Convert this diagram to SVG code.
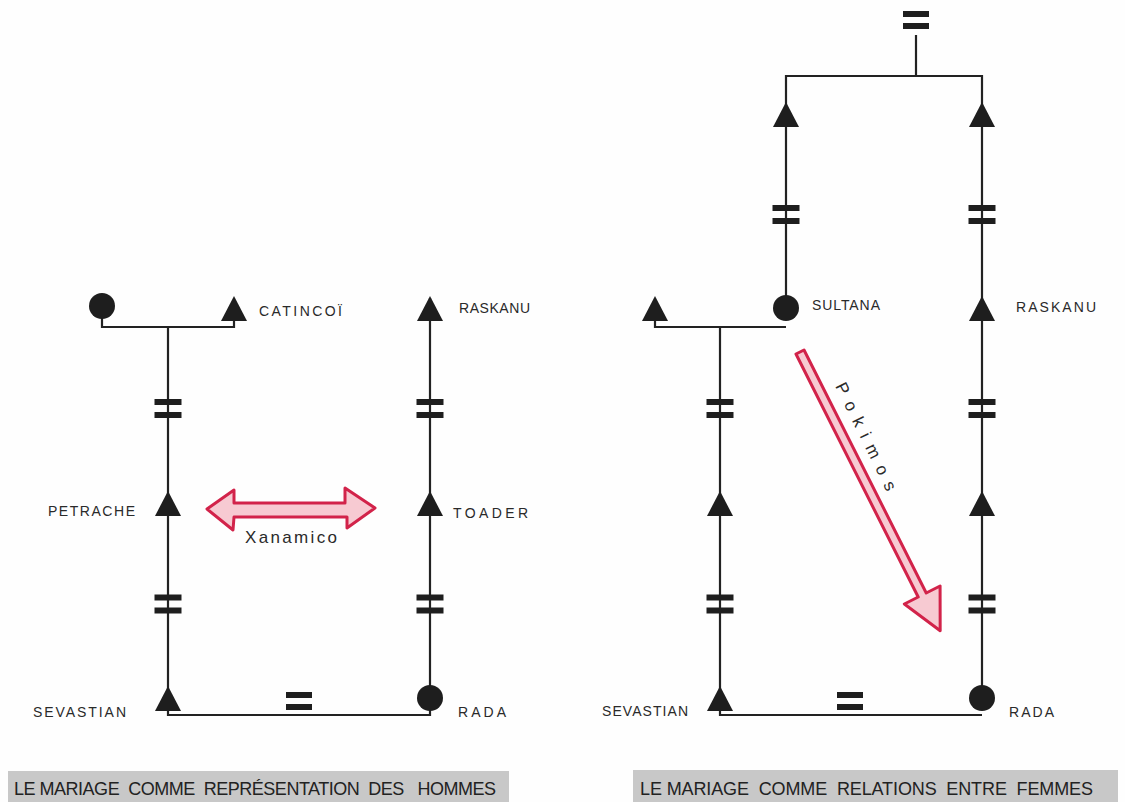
<svg xmlns="http://www.w3.org/2000/svg" width="1125" height="802" viewBox="0 0 1125 802">
<style>
.ln{fill:none;stroke:#222;stroke-width:2.2;stroke-linejoin:miter}
.sym{fill:#1e1e1e}
.lbl{font-family:"Liberation Sans",Arial,sans-serif;font-size:14px;fill:#2a2a2a}
.cap{font-family:"Liberation Sans",Arial,sans-serif;font-size:18px;fill:#222;white-space:pre}
.hand{font-family:"Liberation Sans",Arial,sans-serif;font-size:17px;fill:#2a2a2a}
.red{fill:#f7cad2;stroke:#d2234a;stroke-width:3;stroke-linejoin:round}
</style>
<defs>
<path id="tri" d="M0,0 L13,25 L-13,25 Z"/>
<g id="bars"><rect x="-13.5" y="-9.5" width="27" height="6"/><rect x="-13.5" y="3.5" width="27" height="6"/></g>
<g id="eq"><rect x="-13" y="-9" width="26" height="6"/><rect x="-13" y="3" width="26" height="6"/></g>
</defs>
<rect width="1125" height="802" fill="#fefefe"/>

<g id="connectors">
<path class="ln" d="M102,307 V327 H234 V321"/>
<path class="ln" d="M168,327 V715 H430 V298"/>
<path class="ln" d="M916,35 V76"/>
<path class="ln" d="M786,307 V76 H982 V698"/>
<path class="ln" d="M655,321 V327 H786"/>
<path class="ln" d="M720,327 V715 H982"/>
</g>

<g id="marks" class="sym">
<use href="#bars" x="168" y="408.5"/>
<use href="#bars" x="430" y="408.5"/>
<use href="#bars" x="168" y="604"/>
<use href="#bars" x="430" y="604"/>
<use href="#eq" x="299" y="701"/>
<use href="#bars" x="786" y="214.5"/>
<use href="#bars" x="982" y="214.5"/>
<use href="#bars" x="720" y="408.5"/>
<use href="#bars" x="982" y="408.5"/>
<use href="#bars" x="720" y="604"/>
<use href="#bars" x="982" y="604"/>
<use href="#eq" x="850" y="701"/>
<use href="#eq" x="916" y="20"/>
</g>

<!-- Left diagram -->
<g id="l-mother"><circle class="sym" cx="102" cy="306" r="13"/></g>
<g id="l-catincoi"><use class="sym" href="#tri" x="234" y="296"/><text class="lbl" x="259" y="316" textLength="83" lengthAdjust="spacing">CATINCOÏ</text></g>
<g id="l-raskanu"><use class="sym" href="#tri" x="430" y="296"/><text class="lbl" x="459" y="313" textLength="71" lengthAdjust="spacing">RASKANU</text></g>
<g id="l-petrache"><use class="sym" href="#tri" x="168" y="491"/><text class="lbl" x="48" y="516" textLength="87" lengthAdjust="spacing">PETRACHE</text></g>
<g id="l-toader"><use class="sym" href="#tri" x="430" y="491"/><text class="lbl" x="453" y="518" textLength="75" lengthAdjust="spacing">TOADER</text></g>
<g id="l-sevastian"><use class="sym" href="#tri" x="168" y="686"/><text class="lbl" x="33" y="717" textLength="93" lengthAdjust="spacing">SEVASTIAN</text></g>
<g id="l-rada"><circle class="sym" cx="430" cy="698" r="13"/><text class="lbl" x="458" y="717" textLength="48" lengthAdjust="spacing">RADA</text></g>
<g id="xanamico">
<polygon class="red" points="207,509 234,490 234,503 345,503 345,488 375,508 347,528 347,517 234,517 233,530"/>
<text class="hand" x="245" y="543" textLength="92" lengthAdjust="spacing">Xanamico</text>
</g>
<g id="caption-left">
<rect x="8" y="771" width="501" height="31" fill="#c8c8c8"/>
<text class="cap" x="14" y="795" textLength="482" lengthAdjust="spacing">LE MARIAGE  COMME  REPRÉSENTATION  DES   HOMMES</text>
</g>

<!-- Right diagram -->
<g id="r-top-left"><use class="sym" href="#tri" x="786" y="102"/></g>
<g id="r-top-right"><use class="sym" href="#tri" x="982" y="102"/></g>
<g id="r-sultana"><circle class="sym" cx="786" cy="308" r="13"/><text class="lbl" x="812" y="310" textLength="68" lengthAdjust="spacing">SULTANA</text></g>
<g id="r-husband"><use class="sym" href="#tri" x="655" y="296"/></g>
<g id="r-raskanu"><use class="sym" href="#tri" x="982" y="296"/><text class="lbl" x="1016" y="312" textLength="80" lengthAdjust="spacing">RASKANU</text></g>
<g id="r-mid-left"><use class="sym" href="#tri" x="720" y="491"/></g>
<g id="r-mid-right"><use class="sym" href="#tri" x="982" y="491"/></g>
<g id="r-sevastian"><use class="sym" href="#tri" x="720" y="686"/><text class="lbl" x="602" y="716" textLength="86" lengthAdjust="spacing">SEVASTIAN</text></g>
<g id="r-rada"><circle class="sym" cx="982" cy="698" r="13"/><text class="lbl" x="1009" y="717" textLength="45" lengthAdjust="spacing">RADA</text></g>
<g id="pokimos">
<polygon class="red" transform="translate(800,352) rotate(63.3)" points="0,-4.5 272,-4.5 272,-20 312,0 272,20 272,4.5 0,4.5"/>
<text class="hand" x="835" y="386" transform="rotate(64 835 386)" textLength="118" lengthAdjust="spacing">Pokimos</text>
</g>
<g id="caption-right">
<rect x="633" y="770" width="485" height="32" fill="#c8c8c8"/>
<text class="cap" x="640" y="795" textLength="453" lengthAdjust="spacing">LE MARIAGE  COMME  RELATIONS  ENTRE  FEMMES</text>
</g>
</svg>
